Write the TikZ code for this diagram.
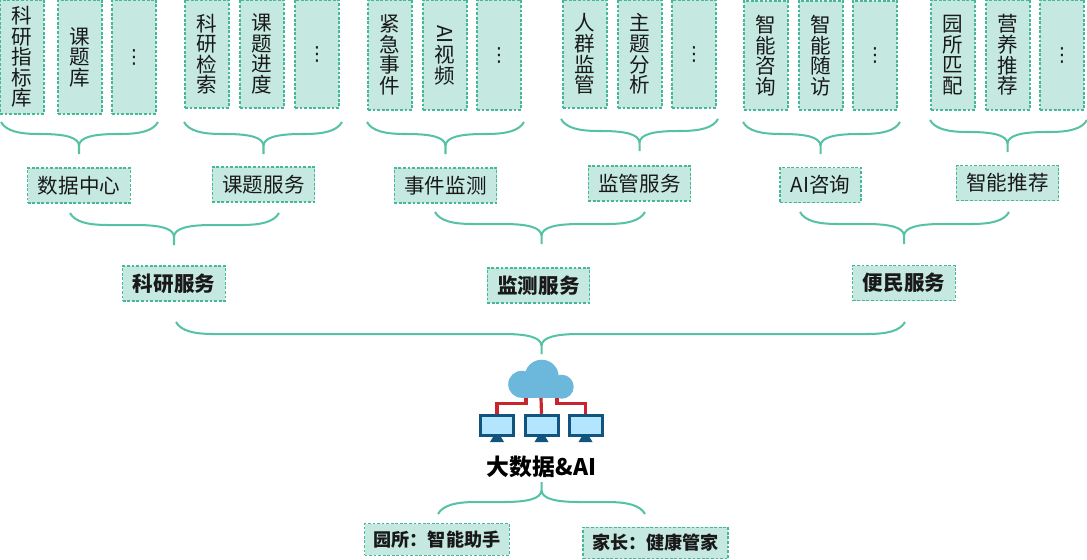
\documentclass[tikz,border=0pt]{standalone}
\usepackage{fontspec}
\setmainfont{Noto Sans CJK SC}
\newfontfamily\symfont{DejaVu Sans}
\usetikzlibrary{calc}

\definecolor{boxfill}{HTML}{C5E9E0}
\definecolor{boxline}{HTML}{45B898}
\definecolor{bracecol}{HTML}{55C1A5}
\definecolor{cloudcol}{HTML}{6CB8DC}
\definecolor{netred}{HTML}{C8232E}
\definecolor{screenline}{HTML}{11557F}
\definecolor{screenfill}{HTML}{B3E5FF}

\newdimen\pxu
\pxu=0.02cm

\tikzset{
	cellbox/.style={draw=boxline, dash pattern=on 1.6pt off 1pt, line width=0.65pt, fill=boxfill, inner sep=0pt, align=center, minimum width=0.88cm, font=\fontsize{11.7pt}{11.7pt}\selectfont, text=black!90},
	tagbox/.style={draw=boxline, dash pattern=on 1.6pt off 1pt, line width=0.65pt, fill=boxfill, inner sep=0pt, minimum width=2.05cm, minimum height=0.7cm, font=\fontsize{11.7pt}{14pt}\selectfont, text=black!90},
	headbox/.style={tagbox, font=\fontsize{11.7pt}{14pt}\selectfont\bfseries},
	footbox/.style={tagbox, minimum width=2.9cm, minimum height=0.63cm, font=\fontsize{10.3pt}{14pt}\selectfont\bfseries},
	braceline/.style={draw=bracecol, line width=1.15pt},
	netlink/.style={draw=netred, line width=1.8pt},
	screenbox/.style={draw=screenline, line width=1.7pt, fill=screenfill, inner sep=0pt, minimum width=0.66cm, minimum height=0.41cm},
}

% brace from two free ends, its tip under or over the parent node
\newcommand{\bracelink}[4]{
	\draw[braceline] let \p1=(#1), \p2=(#2), \p3=(#3) in
		(\p1) .. controls ($(\p1)+(5,#4*9)$) and ($(\p1)+(18,#4*12)$) .. ($(\p1)+(38,#4*12)$)
		-- (\x3-38*\pxu,\y1-#4*12*\pxu) .. controls (\x3-15*\pxu,\y1-#4*12*\pxu) and (\x3,\y1-#4*15*\pxu) .. (\x3,\y1-#4*24*\pxu)
		-- (\x3,\y1-#4*32*\pxu)
		(\x3,\y1-#4*24*\pxu) .. controls (\x3,\y1-#4*15*\pxu) and (\x3+15*\pxu,\y1-#4*12*\pxu) .. (\x3+38*\pxu,\y1-#4*12*\pxu)
		-- ($(\p2)+(-38,#4*12)$) .. controls ($(\p2)+(-18,#4*12)$) and ($(\p2)+(-5,#4*9)$) .. (\p2);
}
\newcommand{\vdotsym}{{\symfont\fontsize{11pt}{12pt}\selectfont ⋮}}

\begin{document}
\begin{tikzpicture}[x=0.02cm, y=-0.02cm]
	\useasboundingbox (0,0) rectangle (1087,559);

	% top row
	\node[cellbox, minimum height=2.28cm] (zb) at (22,57) {科\\研\\指\\标\\库};
	\node[cellbox, minimum height=2.28cm] (ktk) at (80,57) {课\\题\\库};
	\node[cellbox, minimum height=2.28cm] (dots1) at (134,57) {\vdotsym};

	\node[cellbox, minimum height=2.16cm] (jiansuo) at (207,54) {科\\研\\检\\索};
	\node[cellbox, minimum height=2.16cm] (jindu) at (262,54) {课\\题\\进\\度};
	\node[cellbox, minimum height=2.16cm] (dots2) at (317,54) {\vdotsym};

	\node[cellbox, minimum height=2.2cm] (jinji) at (390,55) {紧\\急\\事\\件};
	\node[cellbox, minimum height=2.2cm] (shipin) at (445,55) {\rotatebox{-90}{AI}\\视\\频};
	\node[cellbox, minimum height=2.2cm] (dots3) at (499,55) {\vdotsym};

	\node[cellbox, minimum height=2.16cm] (renqun) at (585,54) {人\\群\\监\\管};
	\node[cellbox, minimum height=2.16cm] (zhuti) at (640,54) {主\\题\\分\\析};
	\node[cellbox, minimum height=2.16cm] (dots4) at (694,54) {\vdotsym};

	\node[cellbox, minimum height=2.18cm] (zixun) at (766,55.5) {智\\能\\咨\\询};
	\node[cellbox, minimum height=2.18cm] (suifang) at (821,55.5) {智\\能\\随\\访};
	\node[cellbox, minimum height=2.18cm] (dots5) at (875,55.5) {\vdotsym};

	\node[cellbox, minimum height=2.2cm] (pipei) at (953,55) {园\\所\\匹\\配};
	\node[cellbox, minimum height=2.2cm] (yingyang) at (1008,55) {营\\养\\推\\荐};
	\node[cellbox, minimum height=2.2cm] (dots6) at (1062,55) {\vdotsym};

	% second row
	\node[tagbox] (shuju) at (79,185.5) {数据中心};
	\node[tagbox] (keti) at (263.5,184.5) {课题服务};
	\node[tagbox] (shijian) at (445.5,185.5) {事件监测};
	\node[tagbox] (jianguan) at (639.5,183.5) {监管服务};
	\node[tagbox, minimum width=1.62cm] (aizx) at (820.5,185) {AI咨询};
	\node[tagbox] (tuijian) at (1007.5,183) {智能推荐};

	% third row
	\node[headbox] (keyan) at (174,283.5) {科研服务};
	\node[headbox] (jiance) at (538.5,285.5) {监测服务};
	\node[headbox] (bianmin) at (904,283) {便民服务};

	% cloud and screens
	\fill[cloudcol] (541.7,376.7) circle (17);
	\fill[cloudcol] (521.7,384.3) circle (13.5);
	\fill[cloudcol] (561.7,386.7) circle (12);
	\fill[cloudcol] (521,380) rectangle (561,398);
	\coordinate (cloudl) at (526,398);
	\coordinate (cloudm) at (541,398);
	\coordinate (cloudr) at (557,398);
	\foreach \m/\x in {scr1/497, scr2/541.5, scr3/585.5} {
		\fill[screenline] (\x-4,437) -- (\x+4,437) -- (\x+7,442) -- (\x-7,442) -- cycle;
		\node[screenbox] (\m) at (\x,425.5) {};
	}
	\draw[netlink] (cloudl) -- ++(0,5.5) -| (scr1.north);
	\draw[netlink] (cloudm) -- (scr2.north);
	\draw[netlink] (cloudr) -- ++(0,5.5) -| (scr3.north);
	\node[font=\fontsize{13pt}{14pt}\selectfont\bfseries, inner sep=0pt] (bigdata) at (541.5,467) {大数据\&AI};

	% bottom row
	\node[footbox] (yuansuo) at (437,539.5) {园所：智能助手};
	\node[footbox] (jiazhang) at (655.5,543) {家长：健康管家};

	% brace ends
	\coordinate (a1) at (1,122);
	\coordinate (a2) at (158,122);
	\coordinate (b1) at (184,122);
	\coordinate (b2) at (342,122);
	\coordinate (c1) at (367,122);
	\coordinate (c2) at (524,122);
	\coordinate (d1) at (561,119);
	\coordinate (d2) at (718,119);
	\coordinate (e1) at (743,122);
	\coordinate (e2) at (900,122);
	\coordinate (f1) at (930,120);
	\coordinate (f2) at (1087,120);
	\coordinate (g1) at (70,213);
	\coordinate (g2) at (279,213);
	\coordinate (h1) at (435,212);
	\coordinate (h2) at (645,212);
	\coordinate (i1) at (800,212);
	\coordinate (i2) at (1009,212);
	\coordinate (j1) at (176,322);
	\coordinate (j2) at (905,322);
	\coordinate (k1) at (438,514);
	\coordinate (k2) at (645,514);

	% braces
	\bracelink{a1}{a2}{shuju}{1}
	\bracelink{b1}{b2}{keti}{1}
	\bracelink{c1}{c2}{shijian}{1}
	\bracelink{d1}{d2}{jianguan}{1}
	\bracelink{e1}{e2}{aizx}{1}
	\bracelink{f1}{f2}{tuijian}{1}
	\bracelink{g1}{g2}{keyan}{1}
	\bracelink{h1}{h2}{bigdata}{1}
	\bracelink{i1}{i2}{bianmin}{1}
	\bracelink{j1}{j2}{bigdata}{1}
	\bracelink{k1}{k2}{bigdata}{-1}
\end{tikzpicture}
\end{document}
